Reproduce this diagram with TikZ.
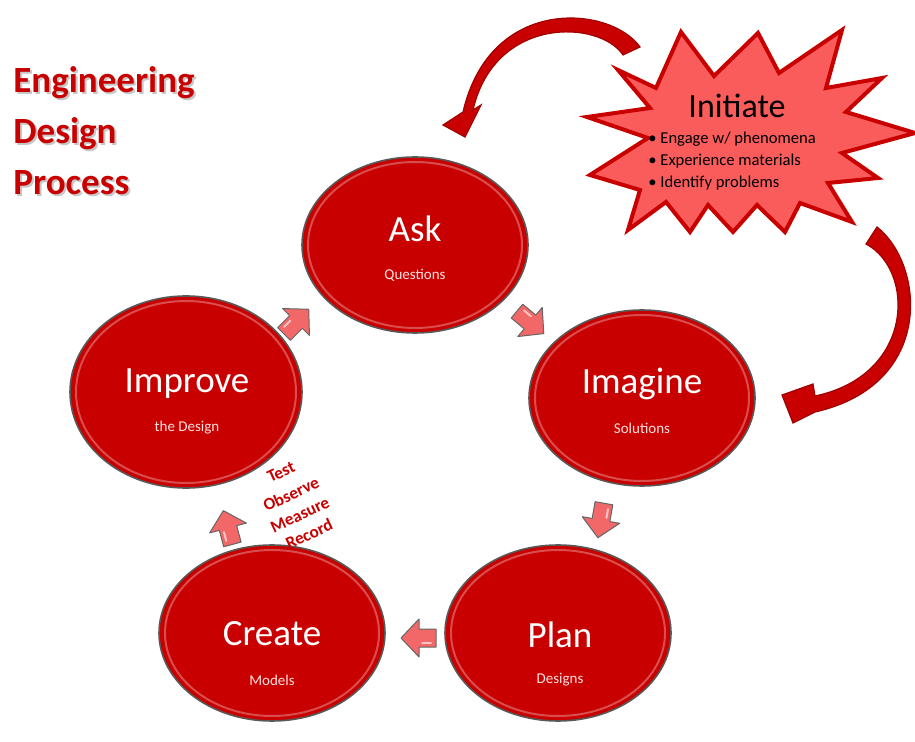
\documentclass[tikz,border=0pt]{standalone}
\usepackage{fontspec}
\setmainfont{Carlito}
\usetikzlibrary{shapes.geometric}

\definecolor{edpred}{RGB}{200,0,0}
\definecolor{edpdark}{RGB}{160,0,0}
\definecolor{edppink}{RGB}{242,104,104}
\definecolor{edpstar}{RGB}{250,92,92}
\definecolor{edplight}{RGB}{255,225,225}

\tikzset{
  stage/.style={ellipse, fill=edpred, draw=black!65, line width=0.8pt, minimum width=113pt, minimum height=88pt, inner sep=0pt},
  rim/.style={draw=white, opacity=0.3, line width=1pt},
  bigword/.style={text=white, font=\fontsize{18.5}{20}\selectfont, inner sep=0pt},
  smallword/.style={text=edplight, font=\fontsize{7.5}{9}\selectfont, inner sep=0pt},
  checkword/.style={text=edpred, font=\bfseries\fontsize{8.6}{10}\selectfont, rotate=25, inner sep=0pt},
  curl/.style={fill=edpred, draw=edpdark, line width=0.6pt},
  headline/.style={text=edpred, font=\bfseries\fontsize{18.5}{25.5}\selectfont, align=left, inner sep=0pt},
  pics/blockarrow/.style={code={
    \filldraw[fill=edppink, draw=black!60, line width=0.5pt, line join=round]
      (-17,-9) -- (0,-9) -- (0,-19) -- (18,0) -- (0,19) -- (0,9) -- (-17,9) -- cycle;
    \draw[white, opacity=0.6, line width=1pt, line cap=round] (-12,-5) -- (-3,-5);
  }},
}

\begin{document}
\begin{tikzpicture}[x=0.5pt, y=-0.5pt]
    \useasboundingbox (0,0) rectangle (915,742);

    %title
    \node[headline, text=black!22, anchor=north west] (titleshadow) at (15,68) {Engineering\\Design\\Process};
    \node[headline, anchor=north west] (title) at (13,66) {Engineering\\Design\\Process};

    %stages
    \node[stage] (ask) at (415,245) {};
    \node[stage] (imagine) at (642,398) {};
    \node[stage] (plan) at (558,633) {};
    \node[stage] (create) at (272,633) {};
    \node[stage, minimum width=116pt, minimum height=96pt] (improve) at (186,392) {};

    \draw[rim] (ask.center) ellipse [x radius=107, y radius=83];
    \draw[rim] (imagine.center) ellipse [x radius=107, y radius=83];
    \draw[rim] (plan.center) ellipse [x radius=107, y radius=83];
    \draw[rim] (create.center) ellipse [x radius=107, y radius=83];
    \draw[rim] (improve.center) ellipse [x radius=110, y radius=91];

    \node[bigword] (askname) at (415,229) {Ask};
    \node[smallword] (asknote) at (415,275) {Questions};
    \node[bigword] (imaginename) at (642,384) {Imagine};
    \node[smallword] (imaginenote) at (642,428) {Solutions};
    \node[bigword] (planname) at (560,635) {Plan};
    \node[smallword] (plannote) at (560,680) {Designs};
    \node[bigword] (createname) at (272,634) {Create};
    \node[smallword] (createnote) at (272,680) {Models};
    \node[bigword] (improvename) at (187,384) {Improve};
    \node[smallword] (improvenote) at (187,428) {the Design};

    %block arrows
    \pic[rotate=45] (toask) at (296,322) {blockarrow};
    \pic[rotate=-40] (toimagine) at (530,322) {blockarrow};
    \pic[rotate=-100] (toplan) at (601,520) {blockarrow};
    \pic[rotate=180] (tocreate) at (419,638) {blockarrow};
    \pic[rotate=105] (toimprove) at (228,528) {blockarrow};

    \node[checkword] (test) at (281,472) {Test};
    \node[checkword] (observe) at (291,494) {Observe};
    \node[checkword] (measure) at (300,515) {Measure};
    \node[checkword] (record) at (309,534) {Record};

    %initiate star
    \filldraw[fill=edpstar, draw=edpred, line width=2pt, line join=miter]
      (587,117) -- (650,108) -- (618,70) -- (656,88) -- (681,32) -- (714,76) -- (758,33) -- (779,73)
      -- (842,30) -- (826,88) -- (882,78) -- (846,112) -- (915,133) -- (842,153) -- (878,178) -- (828,183)
      -- (852,222) -- (800,203) -- (785,232) -- (757,205) -- (733,232) -- (708,205) -- (690,232) -- (666,202)
      -- (628,230) -- (640,190) -- (590,175) -- (648,138) -- cycle;
    \node[font=\fontsize{17}{20}\selectfont, inner sep=0pt] (initiate) at (737,106) {Initiate};
    \node[font=\fontsize{8.3}{10.8}\selectfont, align=left, inner sep=0pt, anchor=north west] (initiatelist) at (648,132)
      {\textbullet\ Engage w/ phenomena\\\textbullet\ Experience materials\\\textbullet\ Identify problems};

    %curved arrows
    \filldraw[curl] (640,47) .. controls (610,5) and (490,-5) .. (463,112) -- (443,125) -- (465,137) -- (481,105)
      -- (473,110) .. controls (495,15) and (600,20) .. (623,55) -- cycle;
    \filldraw[curl] (877,227) .. controls (925,265) and (935,385) .. (815,412) -- (793,423) -- (782,395) -- (813,384)
      -- (815,396) .. controls (915,375) and (915,270) .. (866,244) -- cycle;

\end{tikzpicture}
\end{document}
